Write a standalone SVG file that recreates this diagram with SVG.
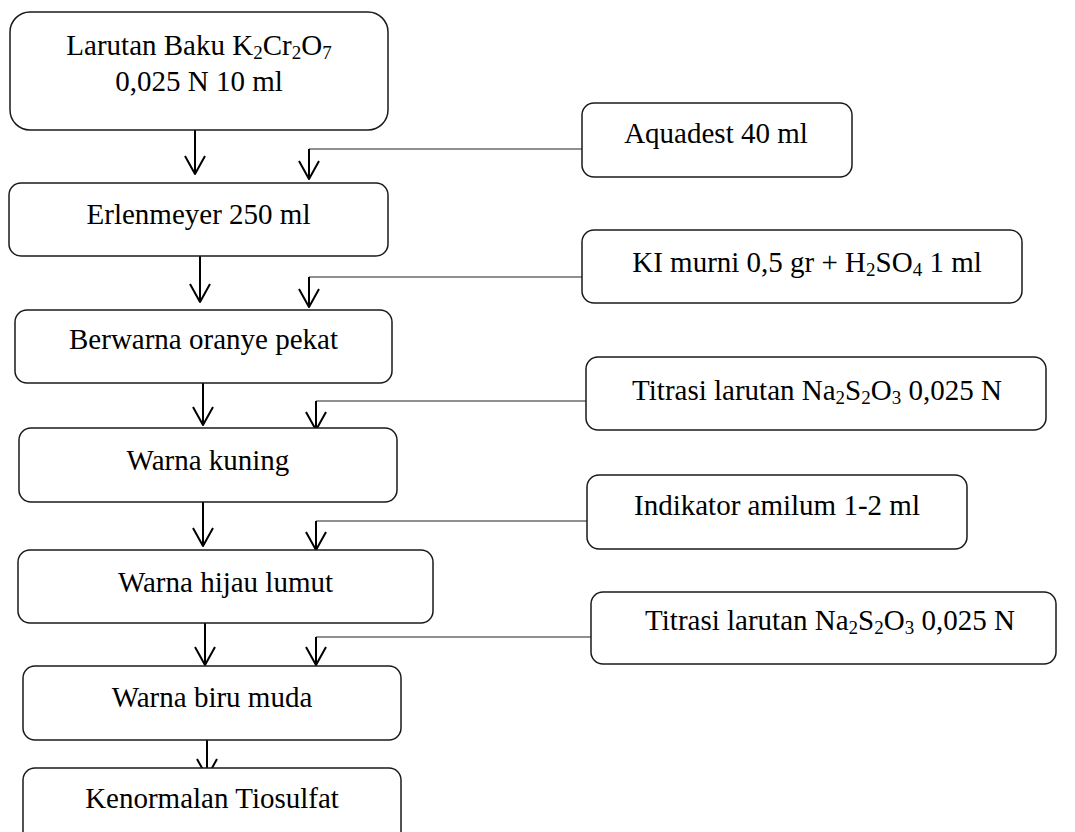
<svg xmlns="http://www.w3.org/2000/svg" width="1075" height="832" viewBox="0 0 1075 832">
  <style>
    .box { fill: #ffffff; stroke: #1a1a1a; stroke-width: 1.5; }
    .t { font-family: "Liberation Serif", "Times New Roman", serif; font-size: 29px; fill: #000; text-anchor: middle; }
    .sub { font-size: 19px; }
    .arrow { fill: none; stroke: #000; stroke-width: 2; marker-end: url(#vhead); }
    .feed { fill: none; stroke: #222; stroke-width: 1.1; }
  </style>
  <defs>
    <marker id="vhead" markerUnits="userSpaceOnUse" markerWidth="20" markerHeight="22" refX="18" refY="10" orient="auto" overflow="visible">
      <path d="M0,0 L18,10 L0,20" fill="none" stroke="#000" stroke-width="2" stroke-linejoin="round"/>
    </marker>
  </defs>
  <rect width="1075" height="832" fill="#ffffff"/>

  <g id="connectors">
    <line class="arrow" x1="195" y1="130" x2="195" y2="174"/>
    <line class="arrow" x1="200" y1="256" x2="200" y2="302"/>
    <line class="arrow" x1="203" y1="383" x2="203" y2="425"/>
    <line class="arrow" x1="203" y1="502" x2="203" y2="546"/>
    <line class="arrow" x1="205" y1="623" x2="205" y2="665"/>
    <line class="arrow" x1="207" y1="734" x2="207" y2="777"/>

    <polyline class="feed" points="591,149 309,149"/>
    <line class="arrow" x1="309" y1="149" x2="309" y2="179"/>
    <polyline class="feed" points="591,277 309,277"/>
    <line class="arrow" x1="309" y1="277" x2="309" y2="307"/>
    <polyline class="feed" points="597,401 316,401"/>
    <line class="arrow" x1="316" y1="401" x2="316" y2="430"/>
    <polyline class="feed" points="597,521 316,521"/>
    <line class="arrow" x1="316" y1="521" x2="316" y2="550"/>
    <polyline class="feed" points="597,637 316,637"/>
    <line class="arrow" x1="316" y1="637" x2="316" y2="665"/>
  </g>

  <g id="n-larutan">
    <rect class="box" x="10" y="12" width="378" height="118" rx="20"/>
    <text class="t" x="199" y="55">Larutan Baku K<tspan class="sub" dy="4">2</tspan><tspan dy="-4">Cr</tspan><tspan class="sub" dy="4">2</tspan><tspan dy="-4">O</tspan><tspan class="sub" dy="4">7</tspan></text>
    <text class="t" x="199" y="91">0,025 N 10 ml</text>
  </g>
  <g id="n-erlenmeyer">
    <rect class="box" x="9" y="183" width="379" height="73" rx="12"/>
    <text class="t" x="198.5" y="224">Erlenmeyer 250 ml</text>
  </g>
  <g id="n-oranye">
    <rect class="box" x="15" y="310" width="377" height="73" rx="12"/>
    <text class="t" x="203.5" y="349">Berwarna oranye pekat</text>
  </g>
  <g id="n-kuning">
    <rect class="box" x="19" y="428" width="378" height="74" rx="12"/>
    <text class="t" x="208" y="470">Warna kuning</text>
  </g>
  <g id="n-hijau">
    <rect class="box" x="18" y="550" width="415" height="73" rx="12"/>
    <text class="t" x="225.5" y="592">Warna hijau lumut</text>
  </g>
  <g id="n-biru">
    <rect class="box" x="23" y="666" width="378" height="74" rx="12"/>
    <text class="t" x="212" y="707">Warna biru muda</text>
  </g>
  <g id="n-kenormalan">
    <rect class="box" x="23" y="768" width="378" height="80" rx="12"/>
    <text class="t" x="212" y="808">Kenormalan Tiosulfat</text>
  </g>

  <g id="n-aquadest">
    <rect class="box" x="582" y="103" width="270" height="74" rx="12"/>
    <text class="t" x="716" y="143">Aquadest 40 ml</text>
  </g>
  <g id="n-ki">
    <rect class="box" x="582" y="230" width="440" height="73" rx="12"/>
    <text class="t" x="807" y="272">KI murni 0,5 gr + H<tspan class="sub" dy="4">2</tspan><tspan dy="-4">SO</tspan><tspan class="sub" dy="4">4</tspan><tspan dy="-4"> 1 ml</tspan></text>
  </g>
  <g id="n-titrasi1">
    <rect class="box" x="586" y="357" width="460" height="73" rx="12"/>
    <text class="t" x="817" y="400">Titrasi larutan Na<tspan class="sub" dy="4">2</tspan><tspan dy="-4">S</tspan><tspan class="sub" dy="4">2</tspan><tspan dy="-4">O</tspan><tspan class="sub" dy="4">3</tspan><tspan dy="-4"> 0,025 N</tspan></text>
  </g>
  <g id="n-indikator">
    <rect class="box" x="587" y="475" width="380" height="74" rx="12"/>
    <text class="t" x="777" y="515">Indikator amilum 1-2 ml</text>
  </g>
  <g id="n-titrasi2">
    <rect class="box" x="591" y="592" width="465" height="72" rx="12"/>
    <text class="t" x="830" y="630">Titrasi larutan Na<tspan class="sub" dy="4">2</tspan><tspan dy="-4">S</tspan><tspan class="sub" dy="4">2</tspan><tspan dy="-4">O</tspan><tspan class="sub" dy="4">3</tspan><tspan dy="-4"> 0,025 N</tspan></text>
  </g>
</svg>
